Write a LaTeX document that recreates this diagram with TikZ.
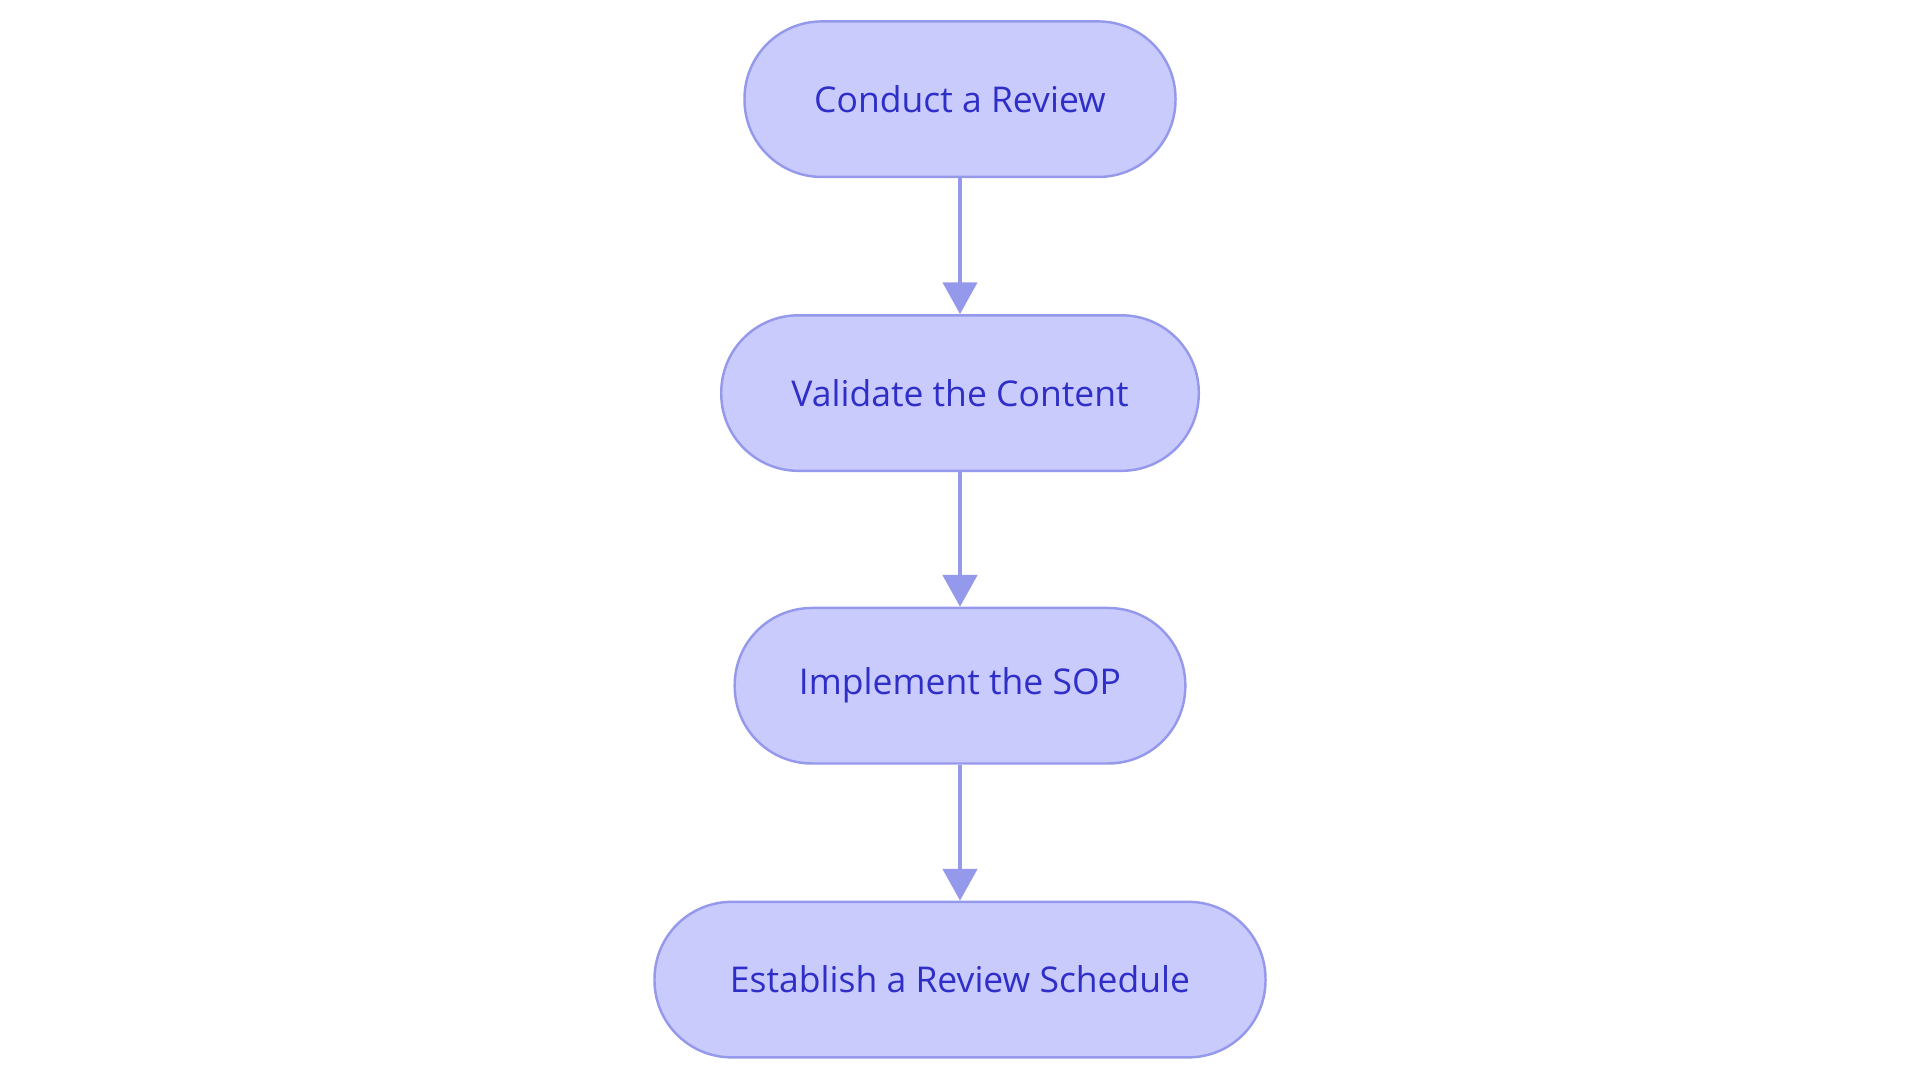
\documentclass[tikz,border=0pt]{standalone}
\usepackage{fontspec}
\setmainfont{Open Sans}
\usetikzlibrary{arrows.meta}
\definecolor{boxfill}{HTML}{C9CBFD}
\definecolor{boxline}{HTML}{9599EC}
\definecolor{txt}{HTML}{2F2FC8}
\begin{document}
\begin{tikzpicture}[x=0.5pt,y=-0.5pt,
  box/.style={draw=boxline,fill=boxfill,line width=1pt,rounded corners=31.5pt,
    minimum height=63.5pt,inner sep=0pt,text=txt,font=\fontsize{14.5}{17}\selectfont},
  arr/.style={draw=boxline,line width=1.6pt,-{Triangle[length=13pt,width=14pt]}}]
\useasboundingbox (0,0) rectangle (1568,884);
\node[box,minimum width=176pt] (a) at (784,81) {Conduct a Review};
\node[box,minimum width=195pt] (b) at (784,321) {Validate the Content};
\node[box,minimum width=184pt] (c) at (784,560) {Implement the SOP};
\node[box,minimum width=249.5pt] (d) at (784,800) {Establish a Review Schedule};
\draw[arr] (a) -- (b);
\draw[arr] (b) -- (c);
\draw[arr] (c) -- (d);
\end{tikzpicture}
\end{document}
